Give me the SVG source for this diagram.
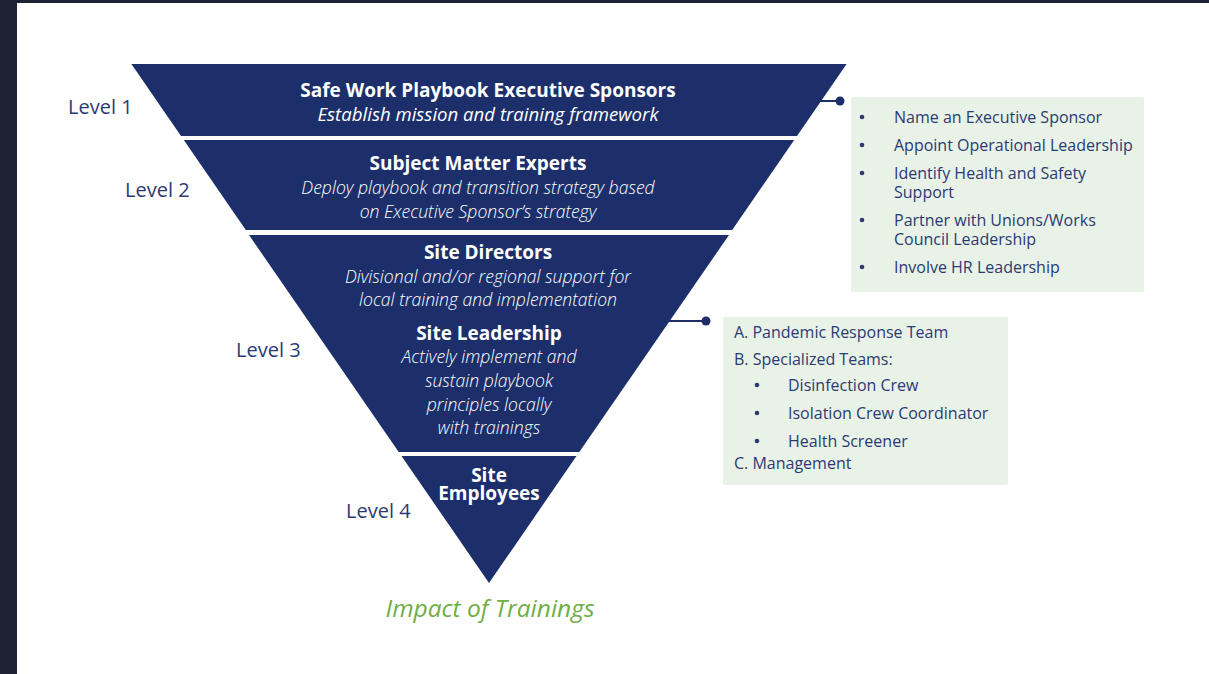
<svg xmlns="http://www.w3.org/2000/svg" width="1209" height="674" viewBox="0 0 1209 674">
  <style>
    .tier { fill: #1c2f6b; }
    .head { font-family: "Open Sans", "Liberation Sans", sans-serif; font-weight: 700; font-size: 19px; fill: #ffffff; text-anchor: middle; }
    .sub { font-family: "Open Sans", "Liberation Sans", sans-serif; font-style: italic; font-weight: 300; font-size: 17.6px; fill: #ffffff; text-anchor: middle; }
    .sub1 { font-weight: 400; font-size: 18.6px; }
    .level { font-family: "Open Sans", "Liberation Sans", sans-serif; font-size: 20px; fill: #2b3a74; }
    .note { fill: #e9f2e6; }
    .item { font-family: "Open Sans", "Liberation Sans", sans-serif; font-size: 16px; fill: #2b3a74; }
    .link { stroke: #1c2f6b; stroke-width: 2; fill: none; }
    .dot { fill: #1c2f6b; }
    .impact { font-family: "Open Sans", "Liberation Sans", sans-serif; font-style: italic; font-size: 24.5px; fill: #6fae45; text-anchor: middle; }
  </style>

  <!-- page -->
  <rect x="0" y="0" width="1209" height="674" fill="#ffffff"/>
  <rect x="0" y="0" width="17" height="674" fill="#1f2135"/>
  <rect x="0" y="0" width="1209" height="3" fill="#1f2135"/>

  <!-- level labels -->
  <g id="levels">
    <text class="level" x="68" y="114">Level 1</text>
    <text class="level" x="125" y="197">Level 2</text>
    <text class="level" x="236" y="357">Level 3</text>
    <text class="level" x="346" y="518">Level 4</text>
  </g>

  <!-- connectors -->
  <g id="connectors">
    <line class="link" x1="820" y1="101" x2="840" y2="101"/>
    <circle class="dot" cx="840" cy="101" r="4.5"/>
    <line class="link" x1="668" y1="321" x2="706" y2="321"/>
    <circle class="dot" cx="706" cy="321" r="4.5"/>
  </g>

  <!-- tier 1 -->
  <g id="tier1">
    <polygon class="tier" points="131.4,64 846.6,64 797,136 181,136"/>
    <text class="head" x="488" y="97">Safe Work Playbook Executive Sponsors</text>
    <text class="sub sub1" x="488" y="121">Establish mission and training framework</text>
  </g>

  <!-- tier 2 -->
  <g id="tier2">
    <polygon class="tier" points="183.8,140 794.2,140 732.2,230 245.8,230"/>
    <text class="head" x="478" y="170">Subject Matter Experts</text>
    <text class="sub" x="478" y="194">Deploy playbook and transition strategy based</text>
    <text class="sub" x="478" y="218">on Executive Sponsor’s strategy</text>
  </g>

  <!-- tier 3 -->
  <g id="tier3">
    <polygon class="tier" points="249,235 729,235 579.3,452 398.7,452"/>
    <text class="head" x="488" y="259">Site Directors</text>
    <text class="sub" x="488" y="283">Divisional and/or regional support for</text>
    <text class="sub" x="488" y="306">local training and implementation</text>
    <text class="head" x="489" y="340">Site Leadership</text>
    <text class="sub" x="489" y="363">Actively implement and</text>
    <text class="sub" x="489" y="387">sustain playbook</text>
    <text class="sub" x="489" y="411">principles locally</text>
    <text class="sub" x="489" y="434">with trainings</text>
  </g>

  <!-- tier 4 -->
  <g id="tier4">
    <polygon class="tier" points="401.5,456 576.5,456 489,583"/>
    <text class="head" x="489" y="482">Site</text>
    <text class="head" x="489" y="500">Employees</text>
  </g>

  <!-- sponsor checklist -->
  <g id="box-sponsor">
    <rect class="note" x="851" y="97" width="293" height="195" rx="2"/>
    <g class="item">
      <circle cx="862" cy="117" r="2.3" fill="#2b3a74"/>
      <text x="894" y="123">Name an Executive Sponsor</text>
      <circle cx="862" cy="145" r="2.3" fill="#2b3a74"/>
      <text x="894" y="151">Appoint Operational Leadership</text>
      <circle cx="862" cy="173" r="2.3" fill="#2b3a74"/>
      <text x="894" y="179">Identify Health and Safety</text>
      <text x="894" y="198">Support</text>
      <circle cx="862" cy="220" r="2.3" fill="#2b3a74"/>
      <text x="894" y="226">Partner with Unions/Works</text>
      <text x="894" y="245">Council Leadership</text>
      <circle cx="862" cy="267" r="2.3" fill="#2b3a74"/>
      <text x="894" y="273">Involve HR Leadership</text>
    </g>
  </g>

  <!-- site team list -->
  <g id="box-teams">
    <rect class="note" x="723" y="317" width="285" height="168" rx="2"/>
    <g class="item">
      <text x="734" y="338">A. Pandemic Response Team</text>
      <text x="734" y="365">B. Specialized Teams:</text>
      <circle cx="757" cy="385" r="2.3" fill="#2b3a74"/>
      <text x="788" y="391">Disinfection Crew</text>
      <circle cx="757" cy="413" r="2.3" fill="#2b3a74"/>
      <text x="788" y="419">Isolation Crew Coordinator</text>
      <circle cx="757" cy="441" r="2.3" fill="#2b3a74"/>
      <text x="788" y="447">Health Screener</text>
      <text x="734" y="469">C. Management</text>
    </g>
  </g>

  <text class="impact" x="490" y="617">Impact of Trainings</text>
</svg>
